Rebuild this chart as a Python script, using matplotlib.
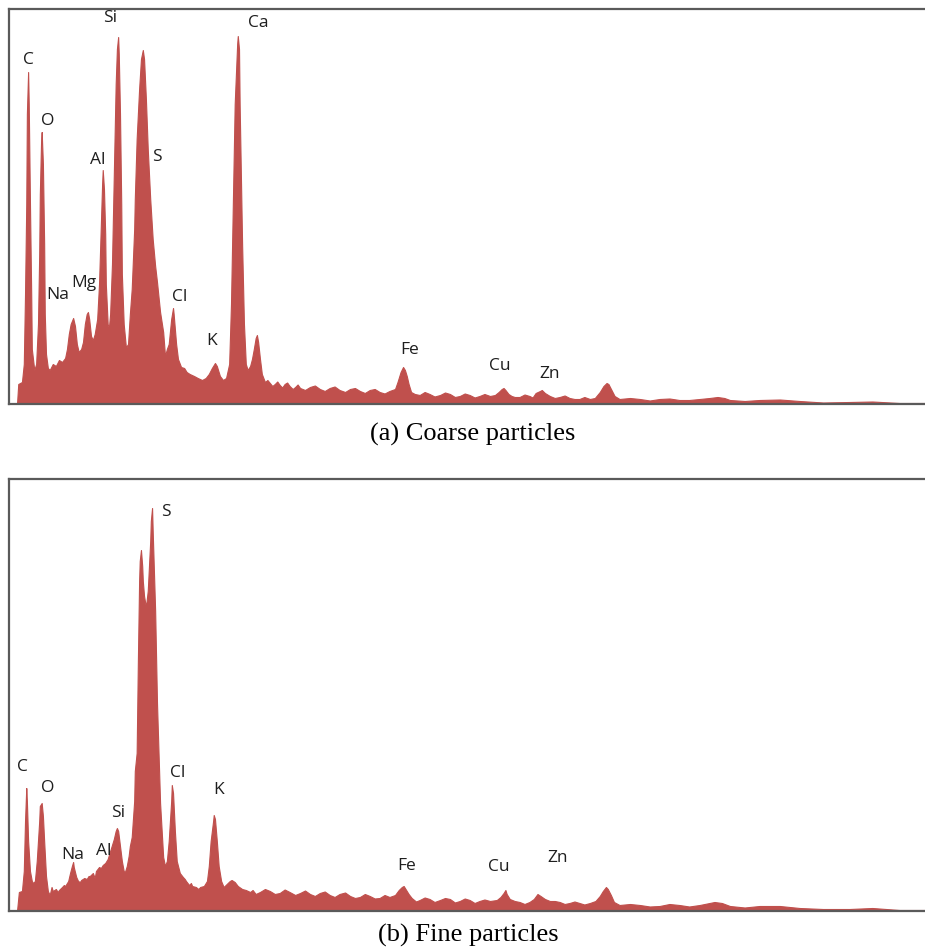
import matplotlib.pyplot as plt

# EDS spectra: energy (keV) and counts (arbitrary units)
energy_a = [0.13, 0.15, 0.21, 0.24, 0.26, 0.28, 0.29, 0.31, 0.32, 0.34, 0.36, 0.37, 0.41, 0.44,
            0.47, 0.49, 0.50, 0.52, 0.53, 0.55, 0.57, 0.58, 0.60, 0.63, 0.66, 0.71, 0.76, 0.81,
            0.86, 0.91, 0.94, 0.97, 1.00, 1.04, 1.07, 1.10, 1.13, 1.17, 1.20, 1.23, 1.26, 1.28,
            1.30, 1.33, 1.36, 1.39, 1.43, 1.46, 1.49, 1.51, 1.52, 1.54, 1.56, 1.57, 1.60, 1.62,
            1.64, 1.67, 1.70, 1.73, 1.75, 1.77, 1.78, 1.80, 1.82, 1.83, 1.86, 1.90, 1.91, 1.93,
            1.96, 1.99, 2.03, 2.04, 2.07, 2.11, 2.14, 2.17, 2.19, 2.22, 2.25, 2.29, 2.33, 2.37,
            2.40, 2.45, 2.50, 2.53, 2.56, 2.59, 2.63, 2.66, 2.67, 2.71, 2.74, 2.79, 2.84, 2.88,
            2.93, 3.00, 3.06, 3.13, 3.19, 3.24, 3.29, 3.34, 3.37, 3.42, 3.47, 3.52, 3.57, 3.60,
            3.63, 3.66, 3.70, 3.71, 3.73, 3.74, 3.76, 3.78, 3.81, 3.84, 3.87, 3.91, 3.94, 3.97,
            4.00, 4.02, 4.04, 4.07, 4.10, 4.15, 4.23, 4.31, 4.39, 4.47, 4.55, 4.64, 4.72, 4.88,
            5.04, 5.20, 5.36, 5.53, 5.69, 5.85, 6.01, 6.17, 6.26, 6.30, 6.35, 6.39, 6.42, 6.45,
            6.48, 6.52, 6.58, 6.66, 6.82, 6.99, 7.15, 7.31, 7.47, 7.63, 7.80, 7.88, 7.94, 7.99,
            8.02, 8.05, 8.10, 8.15, 8.28, 8.44, 8.54, 8.61, 8.64, 8.69, 8.77, 8.93, 9.09, 9.25,
            9.42, 9.50, 9.58, 9.64, 9.69, 9.72, 9.77, 9.82, 9.90, 10.23, 10.55, 10.87, 11.20,
            11.36, 11.49, 11.60, 11.69, 12.17, 12.82, 13.63, 14.44, 15.01]
counts_a = [0, 200, 220, 400, 1100, 2000, 2900, 3320, 3000, 2000, 1100, 550, 340, 400,
            800, 1500, 2100, 2620, 2720, 2400, 1600, 900, 500, 360, 340, 400, 380, 440,
            420, 460, 550, 700, 800, 860, 780, 600, 520, 550, 620, 800, 900, 920,
            850, 680, 640, 700, 850, 1200, 1800, 2200, 2340, 2150, 1700, 1200, 800, 760,
            900, 1400, 2300, 3200, 3550, 3670, 3500, 2900, 2000, 1300, 800, 540, 580, 600,
            900, 1150, 1750, 2050, 2650, 3150, 3450, 3540, 3450, 3050, 2550, 2050, 1650, 1380,
            1220, 920, 720, 480, 550, 600, 850, 960, 900, 600, 450, 370, 360, 320,
            300, 280, 260, 240, 260, 300, 360, 410, 380, 280, 240, 260, 400, 1000,
            2000, 3000, 3600, 3680, 3550, 3000, 2300, 1600, 800, 400, 340, 380, 450, 550,
            660, 690, 620, 450, 300, 220, 210, 200, 190, 200, 180, 170, 160, 170,
            150, 160, 140, 150, 130, 140, 120, 130, 150, 220, 320, 370, 340, 280,
            200, 120, 100, 90, 100, 90, 100, 80, 90, 80, 80, 90, 120, 150,
            160, 140, 100, 80, 70, 80, 110, 130, 140, 110, 80, 70, 60, 50,
            50, 60, 120, 180, 210, 200, 140, 80, 50, 50, 50, 40, 50,
            60, 70, 60, 40, 40, 30, 20, 10, 10]
# extra background channels (the noisy floor between the lines)
noise_energy_a = [4.19, 4.27, 4.35, 4.43, 4.51, 4.60, 4.68, 4.80, 4.96, 5.12, 5.28, 5.45, 5.61,
                  5.77, 5.93, 6.09, 6.74, 6.90, 7.07, 7.23, 7.39, 7.55, 7.71, 8.20, 8.36, 8.49,
                  8.85, 9.01, 9.17, 9.33, 10.07, 10.39, 10.71, 11.03, 11.93, 12.50, 13.20, 14.00]
noise_counts_a = [240, 180, 225, 165, 215, 150, 195, 140, 185, 130, 175, 120, 160,
                  110, 150, 105, 120, 75, 115, 70, 105, 65, 100, 70, 95, 65,
                  60, 85, 50, 70, 60, 35, 55, 40, 30, 45, 15, 25]

energy_b = [0.13, 0.16, 0.21, 0.24, 0.26, 0.28, 0.29, 0.31, 0.34, 0.37, 0.39, 0.42, 0.45, 0.49,
            0.50, 0.53, 0.55, 0.57, 0.60, 0.63, 0.66, 0.71, 0.76, 0.81, 0.86, 0.91, 0.96, 0.99,
            1.02, 1.04, 1.05, 1.09, 1.12, 1.17, 1.22, 1.26, 1.31, 1.36, 1.41, 1.46, 1.49, 1.52,
            1.56, 1.60, 1.65, 1.70, 1.73, 1.75, 1.77, 1.80, 1.83, 1.86, 1.88, 1.91, 1.94, 1.96,
            1.99, 2.03, 2.04, 2.07, 2.09, 2.11, 2.12, 2.14, 2.16, 2.17, 2.19, 2.22, 2.25, 2.29,
            2.30, 2.32, 2.33, 2.37, 2.40, 2.45, 2.50, 2.53, 2.56, 2.59, 2.63, 2.64, 2.66, 2.69,
            2.72, 2.77, 2.82, 2.87, 2.92, 2.97, 3.03, 3.10, 3.16, 3.21, 3.24, 3.27, 3.31, 3.32,
            3.34, 3.37, 3.40, 3.44, 3.48, 3.53, 3.58, 3.61, 3.66, 3.71, 3.78, 3.84, 3.91, 4.07,
            4.23, 4.39, 4.55, 4.72, 4.88, 5.04, 5.20, 5.36, 5.53, 5.69, 5.85, 6.01, 6.17, 6.26,
            6.32, 6.37, 6.40, 6.43, 6.48, 6.53, 6.66, 6.82, 6.99, 7.15, 7.31, 7.47, 7.63, 7.80,
            7.91, 7.97, 8.02, 8.05, 8.07, 8.12, 8.20, 8.28, 8.44, 8.51, 8.57, 8.62, 8.69, 8.77,
            8.93, 9.09, 9.25, 9.42, 9.51, 9.58, 9.63, 9.68, 9.71, 9.76, 9.81, 9.90, 10.23, 10.55,
            10.87, 11.20, 11.36, 11.44, 11.56, 11.69, 12.17, 12.82, 13.63, 14.44, 15.01]
counts_b = [0, 190, 200, 400, 900, 1230, 1100, 700, 400, 300, 280, 300, 500, 900,
            1050, 1080, 950, 700, 350, 200, 160, 200, 220, 210, 240, 250, 300, 380,
            450, 490, 440, 340, 300, 310, 330, 320, 350, 380, 400, 440, 430, 460,
            480, 520, 620, 720, 800, 830, 800, 650, 500, 400, 390, 450, 550, 650,
            740, 1100, 1400, 1580, 2500, 3300, 3500, 3610, 3450, 3300, 3150, 3040, 3200, 3700,
            3900, 4030, 3800, 3000, 2080, 1080, 540, 450, 500, 700, 1100, 1260, 1180, 800,
            500, 380, 340, 300, 260, 250, 240, 240, 250, 300, 450, 700, 900, 960,
            920, 700, 450, 300, 240, 270, 300, 310, 290, 250, 220, 210, 190, 190,
            200, 180, 190, 180, 170, 180, 160, 170, 150, 140, 150, 130, 140, 160,
            210, 240, 250, 220, 170, 130, 110, 120, 110, 120, 100, 110, 100, 100,
            110, 140, 180, 210, 170, 120, 100, 90, 90, 120, 170, 150, 120, 100,
            90, 80, 80, 80, 100, 150, 200, 240, 220, 160, 90, 60, 60, 50,
            60, 60, 80, 90, 80, 50, 50, 30, 20, 10, 10]
noise_energy_b = [0.69, 0.79, 0.89, 1.15, 1.29, 1.39, 2.85, 2.95, 3.07, 3.95, 4.00, 4.15, 4.31,
                  4.47, 4.64, 4.80, 4.96, 5.12, 5.28, 5.45, 5.61, 5.77, 5.93, 6.09, 6.60, 6.74,
                  6.90, 7.07, 7.23, 7.39, 7.55, 7.71, 8.36, 8.85, 9.01, 9.17, 9.33, 10.07, 10.39,
                  10.71, 11.03, 11.93, 12.50, 13.20, 14.00]
noise_counts_b = [240, 190, 260, 290, 350, 330, 320, 280, 220, 210, 170, 220, 170,
                  215, 160, 205, 150, 195, 140, 185, 130, 170, 125, 160, 95, 135,
                  90, 130, 85, 125, 80, 115, 70, 100, 70, 95, 65, 70, 45,
                  70, 45, 35, 50, 20, 30]

labels_a = ['C', 'O', 'Na', 'Mg', 'Al', 'Si', 'S', 'Cl', 'K', 'Ca', 'Fe', 'Cu', 'Zn']
label_x_a = [0.32, 0.63, 0.79, 1.22, 1.44, 1.64, 2.40, 2.77, 3.29, 4.04, 6.50, 7.96, 8.77]
label_y_a = [3440, 2830, 1090, 1210, 2440, 3860, 2470, 1070, 630, 3810, 540, 380, 300]

labels_b = ['C', 'O', 'Na', 'Al', 'Si', 'S', 'Cl', 'K', 'Fe', 'Cu', 'Zn']
label_x_b = [0.21, 0.62, 1.04, 1.54, 1.77, 2.54, 2.74, 3.40, 6.45, 7.94, 8.90]
label_y_b = [1440, 1230, 560, 600, 980, 3990, 1380, 1210, 450, 440, 530]

captions = ['(a) Coarse particles', '(b) Fine particles']

fill_color = '#c0504d'
frame_color = '#5a5a5a'


def merge(en, cn, ne, nc):
    pts = sorted(zip(list(en) + list(ne), list(cn) + list(nc)))
    return [p[0] for p in pts], [p[1] for p in pts]


fig = plt.figure(figsize=(9.25, 9.49), dpi=100)
ax_a = fig.add_axes([9 / 925, 545 / 949, 925 / 925, 395 / 949])
ax_b = fig.add_axes([9 / 925, 38 / 949, 925 / 925, 432 / 949])

panels = [
    (ax_a, merge(energy_a, counts_a, noise_energy_a, noise_counts_a), labels_a, label_x_a, label_y_a, 3950),
    (ax_b, merge(energy_b, counts_b, noise_energy_b, noise_counts_b), labels_b, label_x_b, label_y_b, 4320),
]

for ax, (en, cn), labs, lx, ly, ytop in panels:
    ax.fill_between(en, cn, 0, color=fill_color, linewidth=0.8, edgecolor=fill_color)
    ax.set_xlim(0, 15)
    ax.set_ylim(0, ytop)
    ax.set_xticks([])
    ax.set_yticks([])
    for s in ax.spines.values():
        s.set_color(frame_color)
        s.set_linewidth(1.6)
    for t, x, y in zip(labs, lx, ly):
        ax.text(x, y, t, ha='center', va='center', fontsize=12.5,
                family='Open Sans', color='#1e1e1e')

fig.text(473 / 925, 1 - 434 / 949, captions[0], ha='center', va='center',
         fontsize=19, family='Liberation Serif', color='black')
fig.text(468 / 925, 1 - 935 / 949, captions[1], ha='center', va='center',
         fontsize=19, family='Liberation Serif', color='black')

fig.savefig('out.png', dpi=100)
